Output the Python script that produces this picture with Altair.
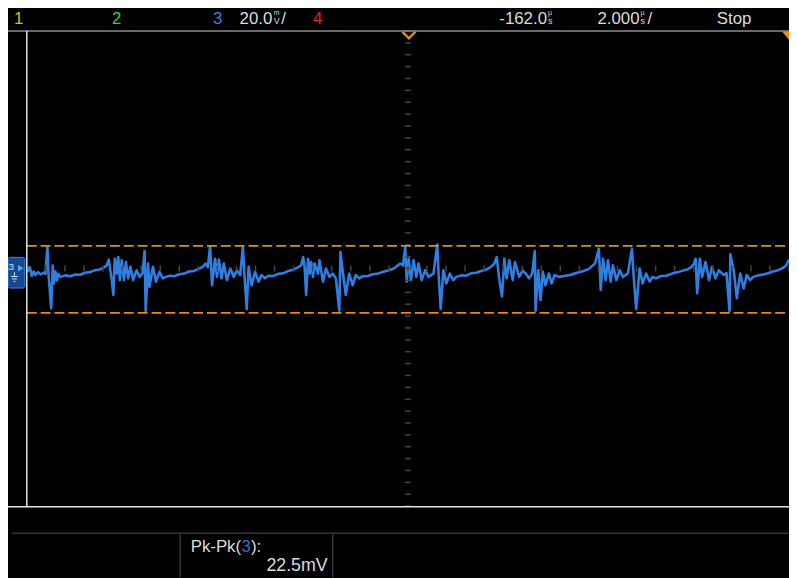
import altair as alt
import numpy as np
import pandas as pd

# ---- Channel 3 trace (time in us from left screen edge, voltage in mV) ----
t_us = [
    0.02, 0.08, 0.13, 0.18, 0.23, 0.29, 0.36, 0.44, 0.49, 0.54, 0.57, 0.64, 0.68, 0.71, 0.75, 0.79, 0.83,
    0.88, 1.01, 1.14, 1.27, 1.40, 1.53, 1.66, 1.79, 1.92, 2.03, 2.10,
    2.15, 2.23, 2.27, 2.31, 2.36, 2.40, 2.44, 2.49, 2.55, 2.60, 2.66, 2.72, 2.79, 2.88, 2.96, 3.04, 3.09, 3.12,
    3.18, 3.22, 3.31, 3.39, 3.48, 3.57,
    3.65, 3.76, 3.87, 4.00, 4.13, 4.26, 4.39, 4.52, 4.62, 4.69,
    4.75, 4.81, 4.86, 4.94, 4.99, 5.04, 5.11, 5.17, 5.25, 5.34, 5.43, 5.51, 5.60, 5.67, 5.71, 5.77, 5.82, 5.90,
    5.99, 6.08, 6.16,
    6.25, 6.34, 6.47, 6.60, 6.73, 6.86, 6.99, 7.10, 7.20,
    7.25, 7.29, 7.33, 7.38, 7.42, 7.46, 7.51, 7.55, 7.64, 7.68, 7.77, 7.85, 7.94, 8.03, 8.11, 8.20, 8.23, 8.29,
    8.37, 8.46, 8.55, 8.63,
    8.72, 8.83, 8.94, 9.07, 9.19, 9.35, 9.51, 9.65, 9.80,
    9.87, 9.93, 9.97, 10.02, 10.08, 10.15, 10.22, 10.28, 10.36, 10.45, 10.54, 10.67, 10.77, 10.81, 10.86, 10.93,
    11.01, 11.10, 11.19,
    11.27, 11.40, 11.53, 11.66, 11.79, 11.92, 12.05, 12.16, 12.27,
    12.33, 12.40, 12.47, 12.53, 12.59, 12.66, 12.75, 12.81, 12.92, 13.01, 13.09, 13.18, 13.26, 13.33, 13.35, 13.42,
    13.48, 13.54, 13.61, 13.70, 13.77, 13.85,
    13.96, 14.10, 14.26, 14.41, 14.57, 14.74, 14.91,
    15.01, 15.06, 15.12, 15.19, 15.25, 15.32, 15.38, 15.47, 15.56, 15.64, 15.77, 15.88, 15.92, 15.99, 16.08, 16.16,
    16.25, 16.34, 16.42,
    16.51, 16.64, 16.78, 16.93, 17.09, 17.22, 17.35, 17.44, 17.51,
    17.55, 17.59, 17.66, 17.72, 17.81, 17.90, 17.98, 18.07, 18.16, 18.29, 18.36, 18.44, 18.46, 18.55, 18.63, 18.72,
    18.81, 18.89, 18.98,
    19.06, 19.19, 19.32, 19.45, 19.58, 19.71, 19.84, 19.93, 20.00,
]
v_mv = [
    -1.1, 0.5, -2.5, -1.0, -2.2, -1.2, -2.0, -1.4, -1.8, 7.4, -2.0, -13.3, 1.0, -5.0, -1.0, -4.0, -1.8,
    -2.8, -2.3, -2.6, -2.0, -2.1, -1.4, -1.2, -0.6, -0.3, 0.4, 1.1,
    3.0, -3.9, -8.9, 3.3, -1.7, 3.9, -3.9, 2.8, -3.9, 2.2, -3.3, 0.6, -3.9, -0.6, -2.8, -1.5, 5.9, -14.4,
    1.7, -6.1, 0.6, -4.4, -1.1, -3.3,
    -2.8, -2.4, -2.6, -1.9, -1.7, -1.0, -0.8, 0.0, 0.6, 1.7,
    0.5, 7.4, -5.6, 3.3, -2.8, 3.0, -3.3, 1.7, -3.9, 0.0, -2.8, -0.6, -2.2, 7.4, -2.0, -13.6, 0.6, -5.6,
    -1.1, -4.4, -2.2,
    -3.3, -2.4, -2.5, -1.8, -1.6, -0.8, -0.4, 0.3, 1.1,
    3.9, 0.6, -8.9, 3.3, -1.7, 2.2, -2.8, 1.7, -1.7, 2.8, -4.4, 0.0, -2.8, -1.7, -3.3, -14.2, 5.6, -1.0,
    -8.9, -1.7, -5.6, -2.2,
    -3.3, -2.5, -2.6, -1.9, -1.8, -1.1, -0.6, 0.2, 1.7,
    1.0, 7.2, -4.4, 3.3, -3.9, 2.8, -2.8, 1.7, -3.9, -0.6, -2.8, -1.7, 8.1, -3.0, -13.6, -0.6,
    -5.0, -1.7, -3.9,
    -2.8, -2.3, -2.4, -1.6, -1.4, -0.8, -0.4, 0.4, 1.7,
    3.9, -3.9, -9.4, 3.3, -3.3, 2.8, -3.9, 2.2, -2.8, -0.6, -1.7, -3.3, -1.7, 5.9, -14.2, -0.6,
    -10.6, -1.1, -5.6, -1.7, -5.0, -2.2,
    -2.8, -2.5, -2.2, -1.5, -1.0, -0.2, 1.7,
    6.7, -7.2, 3.3, -3.9, 2.8, -4.4, 1.1, -3.9, -0.6, -2.8, -1.7, 6.7, -2.0, -13.6, 0.0, -5.0,
    -1.7, -4.4, -2.8,
    -3.3, -2.5, -2.4, -1.7, -1.2, -0.7, -0.2, 0.5, 1.7,
    3.3, -8.3, 3.3, -2.8, 2.2, -3.9, 0.6, -3.3, -0.6, -2.2, -1.5, -14.4, 4.8, -0.6, -10.0, -1.7,
    -6.7, -2.2, -3.9,
    -2.8, -2.3, -2.0, -1.6, -1.0, -0.6, 0.2, 1.1, 3.0,
]

# Cursor lines (mV) and graticule
cursor_mv = [7.6, -14.9]
x_grid = [0, 2, 4, 6, 8, 10, 12, 14, 16, 18, 20]
y_grid = [-80, -60, -40, -20, 0, 20, 40, 60, 80]

# Header / measurement texts
ch_labels = ["1", "2", "3", "4"]
ch_colors = ["#c8c800", "#2ed62e", "#3a7fe0", "#e02424"]
volts_div = "20.0"
delay_txt = "-162.0"
time_div = "2.000"
run_state = "Stop"
meas_name = "Pk-Pk("
meas_src = "3"
meas_value = "22.5mV"

W, H = 770, 480
HFONT = "Liberation Sans, Arial, sans-serif"
SANS = "Liberation Sans, Arial, sans-serif"
TXT = "#dcdcdc"
ORANGE = "#e88a12"

trace = pd.DataFrame({"t": t_us, "v": v_mv})
cursors = pd.DataFrame({"v": cursor_mv})
xticks = pd.DataFrame({"t": [x for x in np.arange(0, 20.01, 0.5)]})
yticks = pd.DataFrame({"v": [y for y in np.arange(-80, 80.1, 4)]})
one = pd.DataFrame({"k": [0]})

xs = alt.Scale(domain=[0, 20], nice=False, zero=False)
ys = alt.Scale(domain=[-80, 80], nice=False, zero=False)

trace_layer = alt.Chart(trace).mark_line(
    color="#2f7fe3", strokeWidth=2.6, strokeJoin="round", clip=True
).encode(
    x=alt.X("t:Q", scale=xs, axis=alt.Axis(values=x_grid, grid=True, labels=False, ticks=False,
                                           domain=False, title=None, gridColor="#333333", gridWidth=1.6)),
    y=alt.Y("v:Q", scale=ys, axis=alt.Axis(values=y_grid, grid=True, labels=False, ticks=False,
                                           domain=False, title=None, gridColor="#333333", gridWidth=1.6)),
)

xtick_layer = alt.Chart(xticks).mark_rule(color="#444444", strokeWidth=1.5).encode(
    x=alt.X("t:Q", scale=xs, axis=None), y=alt.value(H / 2 - 3), y2=alt.value(H / 2 + 3)
)
ytick_layer = alt.Chart(yticks).mark_rule(color="#444444", strokeWidth=1.5).encode(
    y=alt.Y("v:Q", scale=ys, axis=None), x=alt.value(W / 2 - 3), x2=alt.value(W / 2 + 3)
)

cursor_layer = alt.Chart(cursors).mark_rule(color=ORANGE, strokeWidth=1.8, strokeDash=[10, 4]).encode(
    y=alt.Y("v:Q", scale=ys, axis=None), x=alt.value(0), x2=alt.value(W)
)


def txt(s, x, y, color=TXT, size=17, font=HFONT, align="left"):
    return alt.Chart(one).mark_text(text=s, align=align, baseline="alphabetic", font=font,
                                    fontSize=size, color=color).encode(x=alt.value(x), y=alt.value(y))


def rule(x1, x2, y1, y2, color, width=1.5):
    return alt.Chart(one).mark_rule(color=color, strokeWidth=width).encode(
        x=alt.value(x1), x2=alt.value(x2), y=alt.value(y1), y2=alt.value(y2))


deco = []
# frame
deco.append(rule(-19, W, 0, 0, "#8c8c8c"))
deco.append(rule(0, 0, 0, H, "#e6e6e6"))
deco.append(rule(-19, W, H + 0.7, H + 0.7, "#e6e6e6"))
# measurement panel
deco.append(rule(-15, W, 507.4, 507.4, "#353535"))
deco.append(rule(155, 155, 507.4, 552, "#353535"))
deco.append(rule(309, 309, 507.4, 552, "#353535"))
deco.append(txt(meas_name, 216.5, 526.7, size=17, font=SANS, align="right"))
deco.append(txt(meas_src, 217, 526.7, color="#2f6fd0", size=17, font=SANS))
deco.append(txt("):", 226.5, 526.7, size=17, font=SANS))
deco.append(txt(meas_value, 304, 545.7, size=18, font=SANS, align="right"))

# header
hb = -7.3
for lab, col, px in zip(ch_labels, ch_colors, [-13, 86, 188, 289]):
    deco.append(txt(lab, px, hb, color=col))
deco.append(txt(volts_div, 248, hb, align="right"))
deco.append(txt("m", 249.5, -15.8, size=7, font=SANS))
deco.append(txt("V", 249.5, hb, size=9, font=SANS))
deco.append(txt("/", 257, hb))
deco.append(txt(delay_txt, 525.5, hb, align="right"))
deco.append(txt("µ", 526.5, -15.8, size=7, font=SANS))
deco.append(txt("s", 526.5, hb, size=9, font=SANS))
deco.append(txt(time_div, 619, hb, align="right"))
deco.append(txt("µ", 620, -15.8, size=7, font=SANS))
deco.append(txt("s", 620, hb, size=9, font=SANS))
deco.append(txt("/", 627, hb))
deco.append(txt(run_state, 697, hb))

# trigger / reference markers
deco.append(alt.Chart(one).mark_point(shape="M -1 -0.5 L 0 0.5 L 1 -0.5", filled=False, size=169,
                                      color=ORANGE, strokeWidth=2.4, opacity=1).encode(
    x=alt.value(386), y=alt.value(4.2)))
deco.append(alt.Chart(one).mark_point(shape="M -1 -0.6 L 1 -0.6 L 0 0.6 Z", filled=True, size=196,
                                      color="#f0900a", opacity=1).encode(
    x=alt.value(770), y=alt.value(4.7)))

# channel 3 ground marker
deco.append(alt.Chart(one).mark_rect(fill="#17488f", stroke="#3a88e6", strokeWidth=1, cornerRadius=2).encode(
    x=alt.value(-19), x2=alt.value(-2), y=alt.value(228.7), y2=alt.value(259.7)))
deco.append(alt.Chart(one).mark_point(shape="triangle-right", filled=True, size=45,
                                      color="#5aa4fa", opacity=1).encode(
    x=alt.value(-6), y=alt.value(239.7)))
deco.append(txt("3", -18.5, 241.5, color="#cfe2ff", size=10, font=SANS))
deco.append(rule(-12.5, -12.5, 243.7, 248, "#cfe2ff", 1))
deco.append(rule(-16, -9, 248, 248, "#cfe2ff", 1))
deco.append(rule(-15, -10, 250.5, 250.5, "#cfe2ff", 1))
deco.append(rule(-13.5, -11.5, 253, 253, "#cfe2ff", 1))

chart = alt.layer(trace_layer, xtick_layer, ytick_layer, cursor_layer, *deco).properties(
    width=W, height=H,
    padding={"left": 19, "top": 20.3, "right": 0, "bottom": 69.7},
    autosize=alt.AutoSizeParams(type="none"),
    background="black",
).configure_view(strokeWidth=0)

chart.save("out.html", embed_options={"renderer": "svg", "actions": False})
